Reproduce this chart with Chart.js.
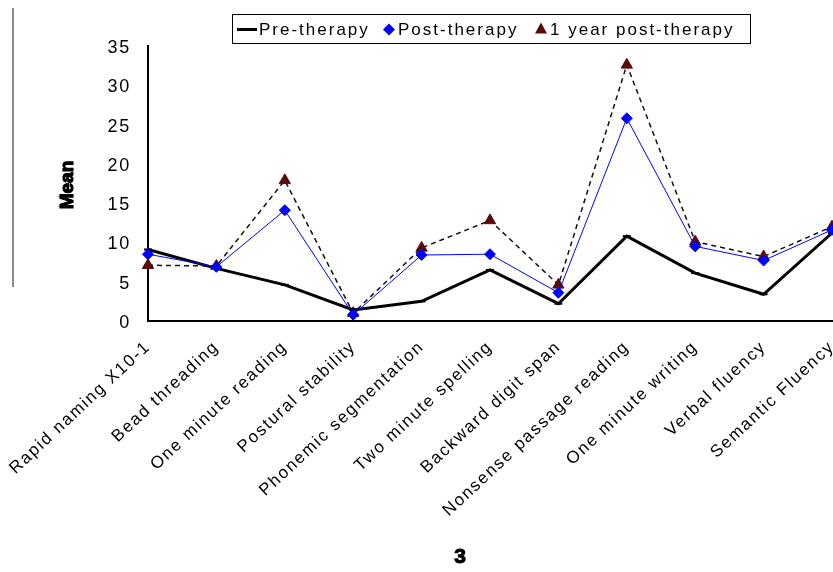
<!DOCTYPE html>
<html>
<head>
<meta charset="utf-8">
<script src="https://cdn.jsdelivr.net/npm/chart.js@4.4.1/dist/chart.umd.min.js"></script>
<style>
  html, body { margin: 0; padding: 0; background: #fff; }
  #wrap { width: 833px; height: 572px; position: relative; }
</style>
</head>
<body>
<div id="wrap"><canvas id="c" width="833" height="572"></canvas></div>
<script>
const categories = ['Rapid naming X10-1', 'Bead threading', 'One minute reading', 'Postural stability',
  'Phonemic segmentation', 'Two minute spelling', 'Backward digit span', 'Nonsense passage reading',
  'One minute writing', 'Verbal fluency', 'Semantic Fluency'];
const preTherapy = [9.1, 6.7, 4.6, 1.4, 2.5, 6.5, 2.2, 10.8, 6.1, 3.4, 11.2];
const postTherapy = [8.5, 6.9, 14.1, 0.8, 8.4, 8.5, 3.6, 25.8, 9.5, 7.7, 11.6];
const oneYearPost = [7.1, 7.0, 17.9, 1.0, 9.3, 12.8, 4.6, 32.6, 10.1, 8.2, 12.0];
const yTicks = [0, 5, 10, 15, 20, 25, 30, 35];
const seriesNames = ['Pre-therapy', 'Post-therapy', '1 year post-therapy'];
const yTitle = 'Mean';
const figLabel = '3';

const FONT = '"Liberation Sans", Arial, sans-serif';
const SPACING = '1.7px';
const LEGEND_SPACING = '2px';

const spacingPlugin = {
  id: 'spacing',
  beforeUpdate(chart) { chart.ctx.letterSpacing = SPACING; },
  beforeLayout(chart) { chart.ctx.letterSpacing = SPACING; },
  beforeDraw(chart) { chart.ctx.letterSpacing = SPACING; }
};

const decorPlugin = {
  id: 'decor',
  afterDraw(chart) {
    const ctx = chart.ctx;
    ctx.save();
    // left gray frame line
    ctx.strokeStyle = '#8a8a8a';
    ctx.lineWidth = 2;
    ctx.beginPath(); ctx.moveTo(13, 8); ctx.lineTo(13, 287); ctx.stroke();

    // legend box
    ctx.strokeStyle = '#000';
    ctx.lineWidth = 1;
    ctx.fillStyle = '#fff';
    ctx.fillRect(232.5, 14.5, 518, 29);
    ctx.strokeRect(232.5, 14.5, 518, 29);
    const ly = 29.5;
    ctx.font = '17px ' + FONT;
    ctx.letterSpacing = LEGEND_SPACING;
    ctx.textBaseline = 'middle';
    ctx.textAlign = 'left';
    ctx.fillStyle = '#000';
    const ds = chart.data.datasets;
    // item 1: line marker
    ctx.strokeStyle = ds[0].borderColor; ctx.lineWidth = 3;
    ctx.beginPath(); ctx.moveTo(237, ly); ctx.lineTo(257, ly); ctx.stroke();
    ctx.fillText(seriesNames[0], 259, ly + 1);
    // item 2: diamond
    ctx.fillStyle = ds[1].pointBackgroundColor;
    ctx.beginPath();
    ctx.moveTo(389, ly - 6); ctx.lineTo(395, ly); ctx.lineTo(389, ly + 6); ctx.lineTo(383, ly); ctx.closePath();
    ctx.fill();
    ctx.fillStyle = '#000';
    ctx.fillText(seriesNames[1], 398, ly + 1);
    // item 3: triangle
    ctx.fillStyle = ds[2].pointBackgroundColor;
    ctx.beginPath();
    ctx.moveTo(541, ly - 7); ctx.lineTo(547, ly + 4); ctx.lineTo(535, ly + 4); ctx.closePath();
    ctx.fill();
    ctx.fillStyle = '#000';
    ctx.fillText(seriesNames[2], 550, ly + 1);

    // y axis title
    ctx.save();
    ctx.translate(68, 185);
    ctx.rotate(-Math.PI / 2);
    ctx.font = 'bold 19px ' + FONT;
    ctx.letterSpacing = '0px';
    ctx.textAlign = 'center';
    ctx.textBaseline = 'middle';
    ctx.fillStyle = '#000';
    ctx.strokeStyle = '#000';
    ctx.lineWidth = 1.2;
    ctx.fillText(yTitle, 0, 0);
    ctx.strokeText(yTitle, 0, 0);
    ctx.restore();

    // figure label
    ctx.font = 'bold 21px ' + FONT;
    ctx.letterSpacing = '0px';
    ctx.textAlign = 'center';
    ctx.textBaseline = 'middle';
    ctx.fillStyle = '#000';
    ctx.strokeStyle = '#000';
    ctx.lineWidth = 1;
    ctx.fillText(figLabel, 460, 557);
    ctx.strokeText(figLabel, 460, 557);
    ctx.restore();
  }
};

new Chart(document.getElementById('c'), {
  type: 'line',
  data: {
    labels: categories,
    datasets: [
      {
        label: seriesNames[0], data: preTherapy,
        borderColor: '#000', borderWidth: 3,
        pointStyle: 'line', pointRadius: 4, pointBorderWidth: 2,
        pointBorderColor: '#000', pointBackgroundColor: '#000',
        tension: 0, clip: false, order: 1
      },
      {
        label: seriesNames[1], data: postTherapy,
        borderColor: '#0000ff', borderWidth: 1,
        pointStyle: 'rectRot', pointRadius: 5.5, pointBorderWidth: 1,
        pointBorderColor: '#0000ff', pointBackgroundColor: '#0000ff',
        tension: 0, clip: false, order: 0
      },
      {
        label: seriesNames[2], data: oneYearPost,
        borderColor: '#111', borderWidth: 1.5, borderDash: [5, 4],
        pointStyle: 'triangle', pointRadius: 6.5, pointBorderWidth: 1,
        pointBorderColor: '#5a0a0a', pointBackgroundColor: '#5a0a0a',
        tension: 0, clip: false, order: 2
      }
    ]
  },
  options: {
    responsive: false,
    animation: false,
    devicePixelRatio: 1,
    layout: { autoPadding: false, padding: { top: 46, left: 0, right: 1, bottom: 0 } },
    plugins: { legend: { display: false }, tooltip: { enabled: false }, title: { display: false } },
    scales: {
      x: {
        type: 'category',
        offset: false,
        grid: { display: false, drawTicks: false },
        border: { display: true, color: '#000', width: 2 },
        ticks: {
          color: '#000', font: { family: FONT, size: 17 },
          minRotation: 43, maxRotation: 43, autoSkip: false, padding: 16
        },
        afterFit(s) { s.height = 572 - 321; s.paddingLeft = 0; s.paddingRight = 0; }
      },
      y: {
        min: 0, max: 35,
        afterBuildTicks(s) { s.ticks = yTicks.map(v => ({ value: v })); },
        grid: { display: false, drawTicks: false },
        border: { display: true, color: '#000', width: 2 },
        ticks: { color: '#000', font: { family: FONT, size: 18 }, padding: 17, labelOffset: 2 },
        afterFit(s) { s.width = 148; s.paddingTop = 0; s.paddingBottom = 0; }
      }
    }
  },
  plugins: [spacingPlugin, decorPlugin]
});
</script>
</body>
</html>
